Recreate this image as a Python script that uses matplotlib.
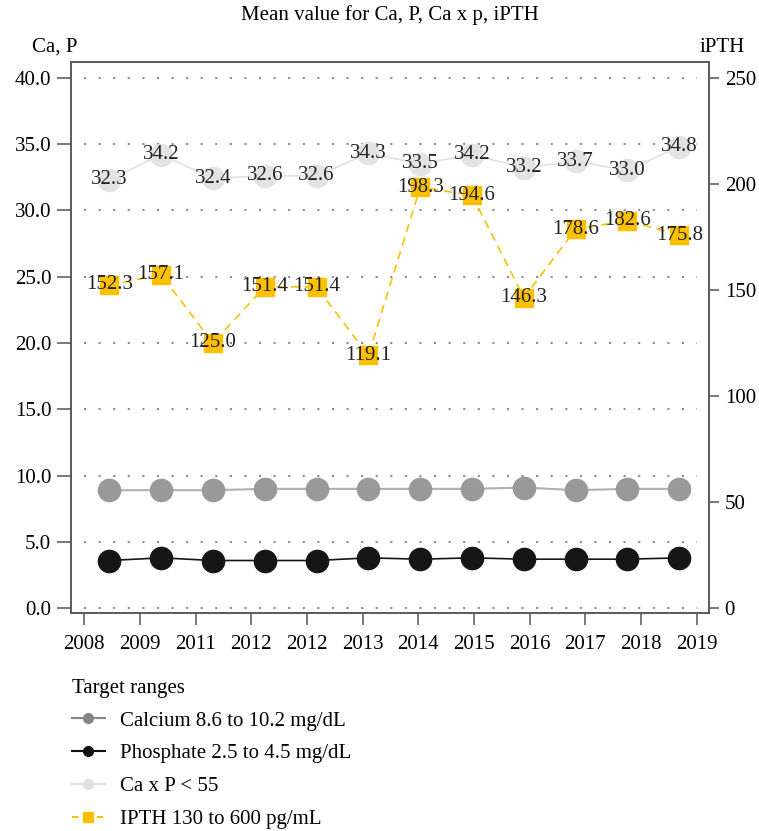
import matplotlib
matplotlib.use('Agg')
import matplotlib.pyplot as plt
from matplotlib.lines import Line2D

plt.rcParams['font.family'] = ['Liberation Serif', 'DejaVu Serif']
plt.rcParams['font.size'] = 15

# data
years = ['2008', '2009', '2011', '2012', '2012', '2013', '2014', '2015', '2016', '2017', '2018', '2019']
calcium = [8.9, 8.9, 8.9, 9.0, 9.0, 9.0, 9.0, 9.0, 9.1, 8.9, 9.0, 9.0]
phosphate = [3.6, 3.8, 3.6, 3.6, 3.6, 3.8, 3.7, 3.8, 3.7, 3.7, 3.7, 3.8]
caxp = [32.3, 34.2, 32.4, 32.6, 32.6, 34.3, 33.5, 34.2, 33.2, 33.7, 33.0, 34.8]
ipth = [152.3, 157.1, 125.0, 151.4, 151.4, 119.1, 198.3, 194.6, 146.3, 178.6, 182.6, 175.8]
left_ticks = [0, 5, 10, 15, 20, 25, 30, 35, 40]
right_ticks = [0, 50, 100, 150, 200, 250]

c_ca = '#999999'
c_p = '#161616'
c_cxp = '#e3e3e3'
c_pth = '#ffc000'
spine_c = '#555555'

fig = plt.figure(figsize=(7.59, 8.31), dpi=100)
ax = fig.add_axes([70.7/759, 1-613.3/831, (708.7-70.7)/759, (613.3-61.7)/831])
ax2 = ax.twinx()

x = list(range(len(caxp)))
xt0, xt1 = -0.482, 11.336
tick_x = [xt0 + i*(xt1-xt0)/(len(years)-1) for i in range(len(years))]

# dotted grid
ax.hlines(left_ticks, xt0, xt1, colors='#8c8c8c', linestyles=(0, (1, 6)), linewidth=1.5, zorder=0)

ax.plot(x, calcium, color='#b0b0b0', lw=1.5, marker='o', ms=16,
        mfc=c_ca, mec=c_ca, zorder=3)
ax.plot(x, phosphate, color=c_p, lw=1.2, marker='o', ms=16,
        mfc=c_p, mec=c_p, zorder=3)
ax.plot(x, caxp, color=c_cxp, lw=1.3, marker='o', ms=16,
        mfc=c_cxp, mec=c_cxp, zorder=3)
for xi, v in zip(x, caxp):
    ax.text(xi, v, f'{v:.1f}', ha='center', va='center', fontsize=15, color='#222222', zorder=5)

ax2.plot(x, ipth, color=c_pth, lw=1.2, ls=(0, (5, 3.5)), marker='s', ms=13,
         mfc=c_pth, mec=c_pth, zorder=3)
for xi, v in zip(x, ipth):
    ax2.text(xi, v, f'{v:.1f}', ha='center', va='center', fontsize=15, color='#222222', zorder=5)

ax.set_xlim(-0.745, 11.567)
ax.set_ylim(-0.38, 41.2)
ax2.set_ylim(-0.38*6.25, 41.2*6.25)
ax.set_xticks(tick_x)
ax.set_xticklabels(years)
ax.set_yticks(left_ticks)
ax.set_yticklabels([f'{t:.1f}' for t in left_ticks])
ax2.set_yticks(right_ticks)

for a in (ax, ax2):
    for s in a.spines.values():
        s.set_color(spine_c)
        s.set_linewidth(1.1)
ax.tick_params(axis='y', length=10, width=1.1, color=spine_c, pad=4, labelsize=15)
ax.tick_params(axis='x', length=8.5, width=1.1, color=spine_c, pad=7, labelsize=15)
ax2.tick_params(axis='y', length=7.5, width=1.1, color=spine_c, pad=4, labelsize=15)

fig.text(389.7/759, 1-15/831, 'Mean value for Ca, P, Ca x p, iPTH', ha='center', va='center', fontsize=15)
fig.text(55/759, 1-47/831, 'Ca, P', ha='center', va='center', fontsize=15)
fig.text(722/759, 1-47/831, 'iPTH', ha='center', va='center', fontsize=15)

handles = [
    Line2D([], [], color='#888484', lw=1.5, marker='o', ms=7, mfc='#888484', mec='#888484'),
    Line2D([], [], color='#111111', lw=1.5, marker='o', ms=7, mfc='#111111', mec='#111111'),
    Line2D([], [], color='#e0e0e0', lw=1.5, marker='o', ms=7, mfc='#e0e0e0', mec='#e0e0e0'),
    Line2D([], [], color=c_pth, lw=1.5, ls=(0, (3, 3)), marker='s', ms=7, mfc=c_pth, mec=c_pth),
]
labels = ['Calcium 8.6 to 10.2 mg/dL', 'Phosphate 2.5 to 4.5 mg/dL', 'Ca x P < 55', 'IPTH 130 to 600 pg/mL']
leg = fig.legend(handles, labels, title='Target ranges', loc='upper left',
                 bbox_to_anchor=(72/759, 1-679/831), frameon=False, fontsize=15,
                 title_fontsize=15, handlelength=1.58, handletextpad=0.72,
                 labelspacing=0.63, alignment='left', borderaxespad=0, borderpad=0)

fig.savefig('out.png', dpi=100)
